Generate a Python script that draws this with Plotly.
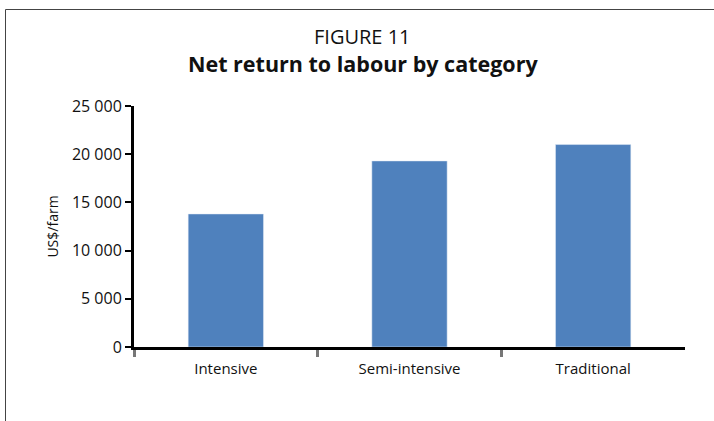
import plotly.graph_objects as go

categories = ["Intensive", "Semi-intensive", "Traditional"]
values = [13800, 19300, 21000]
y_ticks = [0, 5000, 10000, 15000, 20000, 25000]

W, H = 714, 421
L, R, T, B = 134, 29, 106, 74
ph = H - T - B
pw = W - L - R

def py(ypix):
    return (H - B - ypix) / ph

def px(xpix):
    return (xpix - L) / pw

font = "Open Sans"
pos = list(range(len(categories)))
boundaries = [p - 0.5 for p in pos]

fig = go.Figure(go.Bar(x=pos, y=values, marker_color="#4F81BD", width=0.41))

fig.update_layout(
    width=W, height=H, margin=dict(l=L, r=R, t=T, b=B),
    paper_bgcolor="white", plot_bgcolor="white",
    separators=". ",
    showlegend=False,
    font=dict(family=font, color="#111", size=15),
    xaxis=dict(
        range=[-0.5, len(categories) - 0.5], tickvals=boundaries, showticklabels=False,
        showgrid=False, zeroline=False,
        showline=True, linecolor="black", linewidth=3,
        ticks="outside", ticklen=7, tickwidth=3, tickcolor="#777",
    ),
    xaxis2=dict(
        overlaying="x", matches="x", side="bottom",
        range=[-0.5, len(categories) - 0.5], tickvals=pos, ticktext=categories,
        showgrid=False, zeroline=False, showline=False, ticks="",
        tickfont=dict(size=15, family=font, color="#111"),
        ticklabelstandoff=11,
    ),
    yaxis=dict(
        range=[0, 25000], tickvals=y_ticks, tickformat=",d",
        showgrid=False, zeroline=False,
        showline=True, linecolor="black", linewidth=3,
        ticks="outside", ticklen=6, tickwidth=2, tickcolor="black",
        tickfont=dict(size=16, family=font, color="#111"),
        title=dict(text="US$/farm", font=dict(size=14, family=font, color="#111"), standoff=10),
    ),
)
# invisible trace to activate the label axis
fig.add_trace(go.Scatter(x=pos, y=[None] * len(pos), xaxis="x2", mode="markers",
                         hoverinfo="skip", showlegend=False))

fig.add_annotation(text="FIGURE 11", xref="paper", yref="paper", x=px(362), y=py(37),
                   showarrow=False, font=dict(size=20, family=font, color="#111"), yanchor="middle")
fig.add_annotation(text="<b>Net return to labour by category</b>", xref="paper", yref="paper",
                   x=px(363), y=py(64), showarrow=False,
                   font=dict(size=21.5, family=font, color="#111"), yanchor="middle")
fig.add_shape(type="rect", xref="paper", yref="paper", x0=px(5.5), x1=px(760), y0=py(460), y1=py(9.5),
              line=dict(color="#444", width=1), layer="below")

fig.write_html("out.html")
